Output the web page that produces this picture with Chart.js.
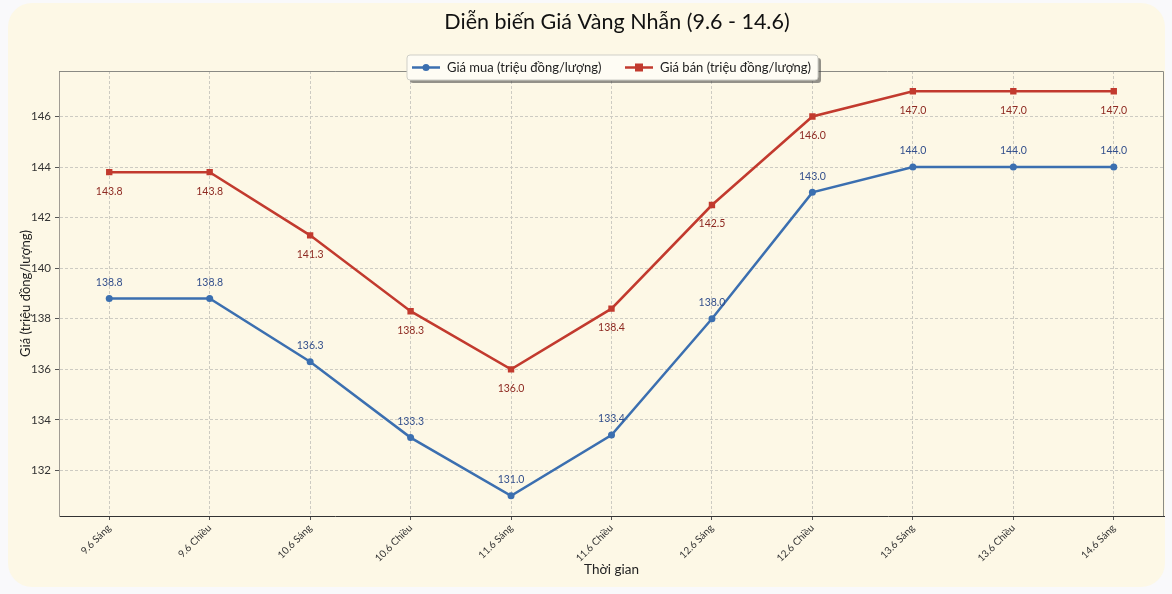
<!DOCTYPE html>
<html>
<head>
<meta charset="utf-8">
<script src="https://cdn.jsdelivr.net/npm/chart.js@4.4.1/dist/chart.umd.min.js"></script>
<style>
    html, body { margin: 0; padding: 0; background: #f9f9fb; }
    #wrap { width: 1172px; height: 594px; }
</style>
</head>
<body>
<div id="wrap"><canvas id="myChart01"></canvas></div>
<script>
const labels = ['9.6 Sáng', '9.6 Chiều', '10.6 Sáng', '10.6 Chiều', '11.6 Sáng', '11.6 Chiều',
                '12.6 Sáng', '12.6 Chiều', '13.6 Sáng', '13.6 Chiều', '14.6 Sáng'];
const giaMua = [138.8, 138.8, 136.3, 133.3, 131.0, 133.4, 138.0, 143.0, 144.0, 144.0, 144.0];
const giaBan = [143.8, 143.8, 141.3, 138.3, 136.0, 138.4, 142.5, 146.0, 147.0, 147.0, 147.0];
const yTicks = [132, 134, 136, 138, 140, 142, 144, 146];
const chartTitle = 'Diễn biến Giá Vàng Nhẫn (9.6 - 14.6)';

const FONT = "Lato";
const BLUE = '#3b6fb0';
const RED = '#c23a2e';

// card background, title, top/right frame
const cardBg = {
    id: 'cardBg',
    beforeDraw(chart) {
        const c = chart.ctx;
        c.save();
        c.fillStyle = '#f9f9fb';
        c.fillRect(0, 0, chart.width, chart.height);
        c.fillStyle = '#fdf8e6';
        c.beginPath();
        c.roundRect(8, 3, 1157, 584, 24);
        c.fill();
        c.fillStyle = '#111';
        c.font = '21.5px ' + FONT;
        c.textAlign = 'center';
        c.textBaseline = 'middle';
        c.fillText(chartTitle, 617, 22);
        c.restore();
    },
    beforeDatasetsDraw(chart) {
        const a = chart.chartArea, c = chart.ctx;
        c.save();
        c.strokeStyle = '#8a8a84';
        c.lineWidth = 1;
        c.beginPath();
        c.moveTo(a.left, a.top + 0.5);
        c.lineTo(a.right - 0.5, a.top + 0.5);
        c.lineTo(a.right - 0.5, a.bottom);
        c.stroke();
        c.restore();
    }
};

// value labels
const valueLabels = {
    id: 'valueLabels',
    afterDatasetsDraw(chart) {
        const c = chart.ctx;
        c.save();
        c.font = '10.5px ' + FONT;
        c.textAlign = 'center';
        c.textBaseline = 'middle';
        chart.data.datasets.forEach((ds, i) => {
            const meta = chart.getDatasetMeta(i);
            c.fillStyle = i === 0 ? '#34508c' : '#8e2a22';
            meta.data.forEach((pt, j) => {
                const dy = i === 0 ? -16 : 19;
                c.fillText(ds.data[j].toFixed(1), pt.x, pt.y + dy);
            });
        });
        c.restore();
    }
};

// legend box (matplotlib style)
const legendBox = {
    id: 'legendBox',
    afterDraw(chart) {
        const c = chart.ctx;
        const x = 407, y = 55, w = 411, h = 25;
        c.save();
        c.fillStyle = 'rgba(60,60,60,0.55)';
        c.beginPath();
        c.roundRect(x + 3, y + 3, w, h, 3);
        c.fill();
        c.fillStyle = '#fefcf4';
        c.strokeStyle = '#cfcfc8';
        c.beginPath();
        c.roundRect(x, y, w, h, 3);
        c.fill();
        c.stroke();
        c.font = '13px ' + FONT;
        c.textBaseline = 'middle';
        const items = [
            { x: 412, color: BLUE, shape: 'circle' },
            { x: 625, color: RED, shape: 'rect' }
        ];
        items.forEach((it, i) => {
            const cy = y + h / 2;
            c.strokeStyle = it.color;
            c.fillStyle = it.color;
            c.lineWidth = 2.5;
            c.beginPath();
            c.moveTo(it.x, cy);
            c.lineTo(it.x + 28, cy);
            c.stroke();
            c.beginPath();
            if (it.shape === 'circle') c.arc(it.x + 14, cy, 3.5, 0, Math.PI * 2);
            else c.rect(it.x + 10, cy - 4, 8, 8);
            c.fill();
            c.fillStyle = '#222';
            c.fillText(chart.data.datasets[i].label, it.x + 35, cy);
        });
        c.restore();
    }
};

const ctx01 = document.getElementById('myChart01').getContext('2d');
const myChart01 = new Chart(ctx01, {
    type: 'line',
    data: {
        labels: labels,
        datasets: [
            {
                label: 'Giá mua (triệu đồng/lượng)',
                data: giaMua,
                borderColor: BLUE,
                backgroundColor: BLUE,
                borderWidth: 2.5,
                pointStyle: 'circle',
                pointRadius: 3.5,
                pointBorderWidth: 0,
                tension: 0
            },
            {
                label: 'Giá bán (triệu đồng/lượng)',
                data: giaBan,
                borderColor: RED,
                backgroundColor: RED,
                borderWidth: 2.5,
                pointStyle: 'rect',
                pointRadius: 4.5,
                pointBorderWidth: 0,
                tension: 0
            }
        ]
    },
    options: {
        responsive: true,
        maintainAspectRatio: false,
        animation: false,
        layout: { padding: { left: 0, right: 8, top: 71, bottom: 0 } },
        scales: {
            x: {
                offset: true,
                grid: {
                    color: '#cdcbc2',
                    tickBorderDash: [],
                    tickColor: '#555',
                    tickLength: 4,
                    offset: false
                },
                border: { color: '#333', width: 1, dash: [3, 2] },
                ticks: {
                    minRotation: 45,
                    maxRotation: 45,
                    color: '#333',
                    padding: 2,
                    font: { size: 10, family: FONT }
                },
                title: {
                    display: true,
                    text: 'Thời gian',
                    color: '#222',
                    padding: { top: 0, bottom: 16 },
                    font: { size: 13.5, family: FONT }
                },
                afterFit: s => { s.height = 78; }
            },
            y: {
                min: 130.2,
                max: 147.8,
                grid: {
                    color: '#cdcbc2',
                    tickBorderDash: [],
                    tickColor: '#555',
                    tickLength: 4
                },
                border: { color: '#a09c94', width: 1, dash: [3, 2] },
                ticks: {
                    color: '#333',
                    padding: 4,
                    font: { size: 11.5, family: FONT }
                },
                afterBuildTicks: s => { s.ticks = yTicks.map(v => ({ value: v })); },
                title: {
                    display: true,
                    text: 'Giá (triệu đồng/lượng)',
                    color: '#222',
                    padding: { top: 18, bottom: 0 },
                    font: { size: 13, family: FONT }
                },
                afterFit: s => { s.width = 59; }
            }
        },
        plugins: {
            legend: { display: false },
            tooltip: { enabled: false },
            title: { display: false }
        }
    },
    plugins: [cardBg, valueLabels, legendBox]
});
</script>
</body>
</html>
